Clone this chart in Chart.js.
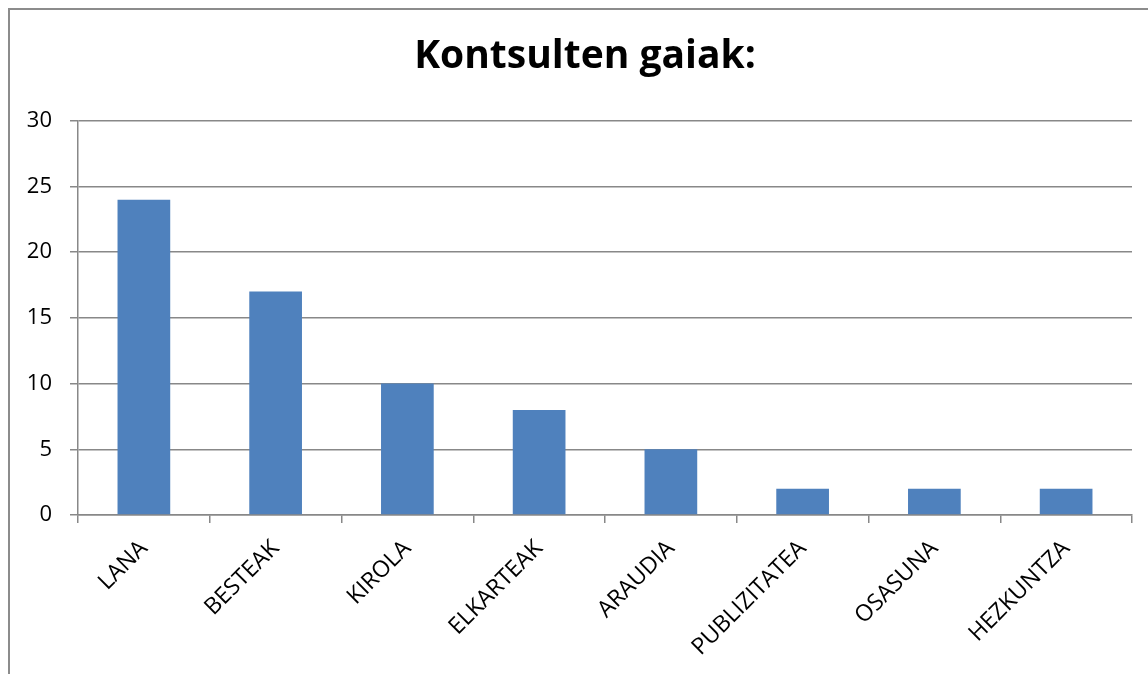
<!DOCTYPE html>
<html>
<head>
<meta charset="utf-8">
<script src="https://cdn.jsdelivr.net/npm/chart.js@4.4.0/dist/chart.umd.min.js"></script>
<style>
  html, body { margin: 0; padding: 0; background: #ffffff; overflow: hidden; }
  #wrap { position: relative; width: 1148px; height: 674px; }
  #frame { position: absolute; left: 8px; top: 8px; width: 1200px; height: 700px;
           border-left: 2px solid #8c8c8c; border-top: 2px solid #8c8c8c; box-sizing: border-box; }
  canvas { position: absolute; left: 0; top: 0; }
</style>
</head>
<body>
<div id="wrap">
  <div id="frame"></div>
  <canvas id="c" width="1148" height="674"></canvas>
</div>
<script>
const titleText = "Kontsulten gaiak:";
const categories = ["LANA", "BESTEAK", "KIROLA", "ELKARTEAK", "ARAUDIA", "PUBLIZITATEA", "OSASUNA", "HEZKUNTZA"];
const values = [24, 17, 10, 8, 5, 2, 2, 2];
const yTicks = [0, 5, 10, 15, 20, 25, 30];

const FONT = "'Open Sans', sans-serif";
const GRID = "#888888";

new Chart(document.getElementById("c"), {
  type: "bar",
  data: {
    labels: categories,
    datasets: [{
      data: values,
      backgroundColor: "#4F81BD",
      borderWidth: 0,
      categoryPercentage: 1.0,
      barPercentage: 0.4
    }]
  },
  options: {
    responsive: false,
    animation: false,
    layout: { padding: { left: 22, right: 0, top: 0, bottom: 0 } },
    plugins: {
      legend: { display: false },
      tooltip: { enabled: false },
      title: {
        display: true,
        text: titleText,
        color: "#000000",
        font: { family: FONT, size: 39, weight: "bold", lineHeight: 1.2 },
        padding: { top: 33, bottom: 41 }
      }
    },
    scales: {
      x: {
        grid: { display: true, drawOnChartArea: false, drawTicks: true, tickLength: 8, color: GRID, lineWidth: 1.5, offset: true },
        border: { display: true, color: GRID, width: 1.5 },
        ticks: {
          color: "#000000",
          font: { family: FONT, size: 23 },
          autoSkip: false, maxRotation: 45, minRotation: 45, padding: 12
        },
        afterFit: (s) => { s.height = 159; s.paddingRight = 16; }
      },
      y: {
        min: 0, max: 30,
        afterBuildTicks: (s) => { s.ticks = yTicks.map(v => ({ value: v })); },
        grid: { color: GRID, lineWidth: 1.5, tickLength: 8 },
        border: { display: true, color: GRID, width: 1.5 },
        ticks: { color: "#000000", font: { family: FONT, size: 22 }, padding: 18 },
        afterFit: (s) => { s.width = 56; }
      }
    }
  }
});
</script>
</body>
</html>
